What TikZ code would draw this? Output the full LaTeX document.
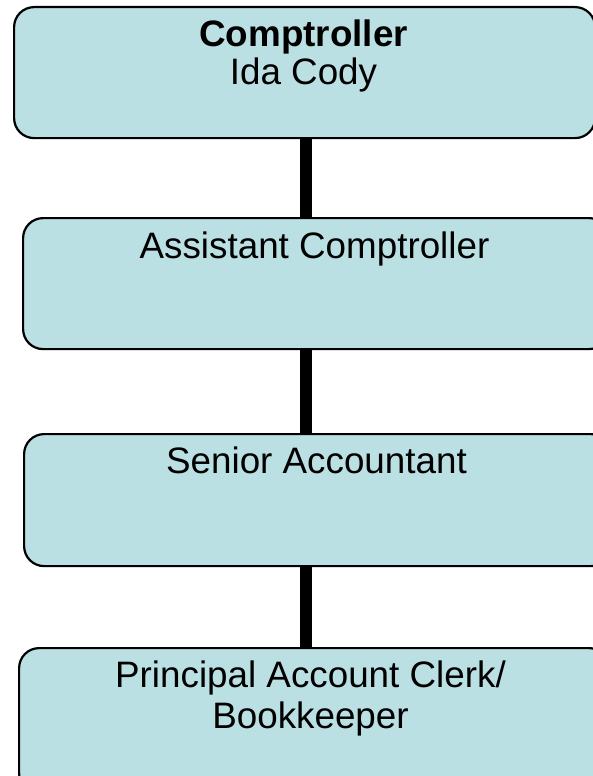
\documentclass[tikz,border=0pt]{standalone}
\usepackage{fontspec}
\setmainfont{Liberation Sans}
\definecolor{boxfill}{RGB}{187,224,227}
\begin{document}
\begin{tikzpicture}[x=1pt,y=-1pt,
  orgbox/.style={draw=black, line width=2.2pt, fill=boxfill, rounded corners=20pt,
    inner sep=0pt, anchor=north west},
  title/.style={inner sep=0pt, anchor=base, align=center,
    font=\fontsize{36.8}{38}\selectfont},
  link/.style={line width=12pt, black}]
  \useasboundingbox (0,0) rectangle (592,776);
  % spine that carries the reporting lines
  \coordinate (spine) at (306,0);
  % boxes
  \node[orgbox, minimum width=581pt, minimum height=131pt] (b1) at (13,6) {};
  \node[orgbox, minimum width=586pt, minimum height=131pt] (b2) at (22,217) {};
  \node[orgbox, minimum width=587pt, minimum height=132pt] (b3) at (23,433) {};
  \node[orgbox, minimum width=590pt, minimum height=145pt] (b4) at (18,647) {};
  % reporting lines
  \draw[link] (b1.south -| spine) -- (b2.north -| spine);
  \draw[link] (b2.south -| spine) -- (b3.north -| spine);
  \draw[link] (b3.south -| spine) -- (b4.north -| spine);
  % titles (base anchor sits on the last line)
  \node[title] (t1) at (303.5,84.5) {\textbf{Comptroller}\\Ida Cody};
  \node[title] (t2) at (314.5,258) {Assistant Comptroller};
  \node[title] (t3) at (316.5,473) {Senior Accountant};
  \node[title, font=\fontsize{36.8}{41.5}\selectfont] (t4) at (310.5,728.5) {Principal Account Clerk/\\Bookkeeper};
\end{tikzpicture}
\end{document}
